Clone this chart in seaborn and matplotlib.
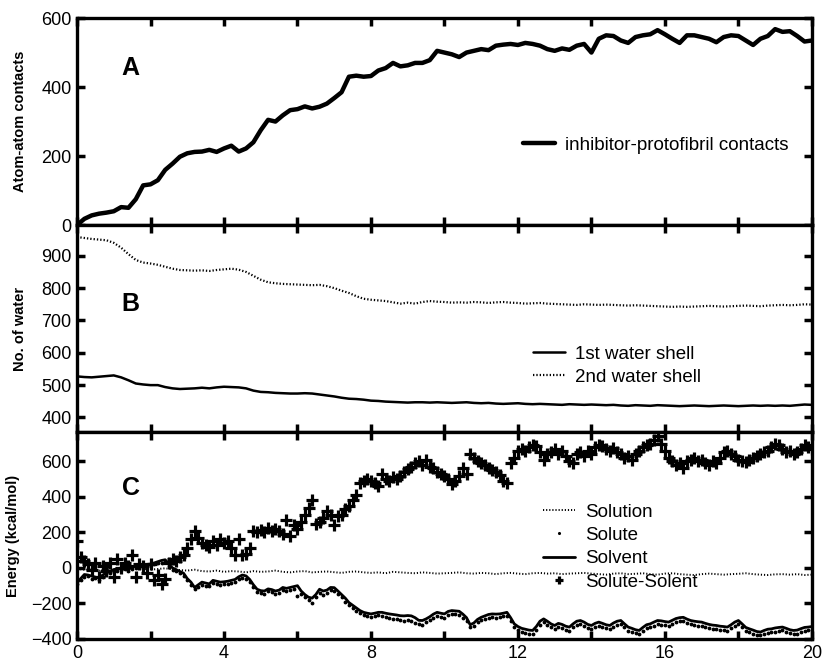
import numpy as np
import matplotlib
matplotlib.use("Agg")
import matplotlib.pyplot as plt
from matplotlib.ticker import MultipleLocator, FuncFormatter
import seaborn as sns

sns.set_style("ticks")
plt.rcParams['font.family'] = ['Liberation Sans', 'DejaVu Sans']
plt.rcParams.update({'axes.edgecolor': 'black', 'xtick.color': 'black', 'ytick.color': 'black',
                     'text.color': 'black', 'axes.labelcolor': 'black'})

# ---- data ----
# panel A: inhibitor-protofibril contacts, every 0.2 ns
contacts = [0, 18, 28, 33, 36, 40, 52, 50, 75, 115, 118, 130, 160, 178, 198, 208, 212, 213, 218, 212,
            222, 230, 213, 222, 240, 275, 305, 300, 318, 333, 336, 344, 338, 343, 352, 368, 385, 430, 433, 430,
            432, 448, 455, 470, 460, 463, 470, 470, 478, 505, 500, 495, 487, 500, 505, 510, 507, 520, 523, 525,
            522, 528, 525, 520, 510, 505, 512, 508, 520, 525, 500, 540, 550, 548, 535, 528, 545, 550, 553, 565,
            553, 540, 528, 550, 550, 545, 540, 530, 545, 550, 548, 535, 522, 540, 548, 568, 560, 562, 548, 532,
            535]

# panel B: number of water molecules, every 0.2 ns
shell1 = [527, 525, 524, 526, 528, 530, 524, 515, 505, 502, 500, 500, 494, 490, 488, 489, 490, 492, 490, 493,
          495, 494, 493, 490, 483, 479, 478, 476, 475, 474, 474, 475, 474, 471, 468, 465, 461, 458, 457, 455,
          452, 451, 449, 448, 447, 446, 447, 447, 446, 447, 446, 445, 446, 447, 445, 444, 445, 443, 442, 443,
          444, 442, 441, 442, 441, 440, 439, 441, 440, 439, 440, 439, 438, 439, 437, 436, 438, 437, 436, 438,
          437, 436, 435, 436, 437, 436, 435, 436, 437, 436, 435, 436, 437, 436, 437, 436, 437, 436, 438, 440,
          439]
shell2 = [958, 955, 952, 950, 948, 940, 925, 905, 887, 879, 876, 872, 866, 860, 856, 855, 854, 855, 853, 856,
          858, 860, 857, 850, 838, 826, 818, 815, 813, 812, 811, 810, 809, 810, 806, 800, 792, 785, 775, 767,
          764, 762, 760, 756, 752, 755, 752, 757, 760, 758, 757, 755, 756, 755, 757, 756, 754, 756, 757, 755,
          754, 752, 753, 754, 752, 751, 750, 749, 748, 750, 749, 748, 749, 748, 747, 746, 747, 746, 745, 744,
          743, 742, 743, 742, 743, 744, 745, 744, 743, 744, 745, 746, 745, 744, 746, 747, 748, 747, 748, 750,
          749]

# panel C: energies, solution every 0.2 ns, others every 0.1 ns
solution = [-5, -10, -8, -15, -5, -12, -10, -8, 0, -5, -10, -6, -2, -8, -12, -15, -10, -18, -20, -15,
            -22, -18, -20, -25, -18, -22, -20, -15, -22, -25, -20, -18, -25, -22, -20, -24, -28, -22, -20, -25,
            -28, -25, -30, -22, -25, -28, -30, -25, -28, -32, -30, -28, -25, -30, -32, -28, -30, -35, -30, -28,
            -32, -35, -30, -28, -32, -30, -35, -32, -30, -28, -32, -35, -38, -32, -30, -35, -33, -30, -35, -38,
            -32, -30, -35, -38, -40, -35, -32, -35, -38, -35, -33, -30, -35, -38, -40, -36, -35, -38, -35, -40,
            -38]
solvent = [-85, -60, -37, -40, -46, -52, -56, -40, -28, -20, -9, -5, -2, 0, -5, 5, 9, 12, 18, 20,
           22, 28, 35, 42, 46, 20, 0, -10, -20, -30, -60, -80, -110, -95, -80, -85, -90, -70, -75, -80,
           -78, -75, -70, -65, -50, -40, -45, -65, -95, -120, -128, -130, -118, -122, -130, -125, -110, -115, -110, -105,
           -100, -130, -150, -165, -170, -150, -120, -130, -125, -110, -111, -130, -150, -170, -195, -210, -225, -240, -250, -255,
           -259, -255, -250, -250, -255, -259, -262, -265, -269, -270, -268, -270, -280, -295, -296, -287, -275, -260, -250, -255,
           -259, -245, -240, -242, -244, -260, -280, -320, -310, -290, -278, -270, -262, -259, -260, -259, -255, -250, -280, -315,
           -330, -340, -345, -350, -352, -330, -300, -287, -300, -315, -324, -312, -318, -328, -333, -315, -300, -296, -305, -318,
           -324, -312, -305, -312, -320, -324, -310, -300, -296, -315, -333, -340, -348, -352, -335, -320, -315, -305, -296, -298,
           -302, -305, -295, -285, -280, -278, -288, -296, -300, -303, -305, -312, -318, -322, -324, -328, -330, -333, -320, -305,
           -296, -315, -335, -343, -350, -358, -361, -352, -345, -343, -338, -335, -333, -340, -348, -352, -350, -342, -335, -333,
           -330]
solute = [-90, -70, -50, -45, -60, -55, -70, -50, -35, -30, -20, -15, -10, -8, -15, -5, 0, 5, 10, 12,
          15, 20, 25, 30, 35, 10, -10, -20, -30, -45, -70, -95, -120, -110, -95, -100, -100, -85, -90, -95,
          -90, -88, -85, -80, -65, -55, -60, -80, -110, -135, -140, -145, -130, -135, -145, -140, -125, -130, -125, -120,
          -160, -145, -165, -180, -200, -165, -140, -150, -140, -125, -130, -145, -165, -190, -210, -225, -240, -255, -265, -270,
          -275, -270, -265, -268, -275, -280, -285, -290, -295, -300, -295, -300, -310, -315, -320, -305, -295, -280, -270, -275,
          -280, -265, -260, -262, -265, -280, -300, -330, -325, -305, -295, -290, -282, -278, -280, -276, -272, -270, -300, -335,
          -350, -360, -365, -370, -372, -350, -320, -305, -320, -335, -345, -330, -338, -348, -355, -335, -320, -318, -325, -340,
          -345, -330, -325, -332, -340, -345, -330, -320, -318, -335, -355, -360, -368, -372, -355, -340, -335, -325, -318, -320,
          -322, -325, -315, -305, -300, -298, -308, -318, -320, -325, -328, -332, -338, -342, -345, -348, -350, -355, -340, -325,
          -318, -335, -355, -363, -370, -378, -380, -372, -365, -362, -358, -355, -352, -360, -368, -372, -370, -362, -355, -352,
          -350]
solute_solvent = [150, 60, 40, 20, -10, 30, -50, 10, -20, 30, -50, 50, 0, 30, 10, 70, -50, 20, 10, -30,
                  20, -70, -40, -90, -60, 30, 50, 40, 60, 70, 110, 160, 210, 170, 140, 130, 120, 150, 130, 160,
                  140, 150, 110, 75, 160, 70, 80, 110, 210, 200, 215, 200, 225, 210, 220, 210, 190, 270, 180, 240,
                  220, 260, 300, 340, 380, 250, 260, 280, 320, 300, 240, 290, 300, 330, 350, 380, 410, 480, 490, 500,
                  490, 480, 460, 530, 500, 490, 510, 500, 520, 540, 555, 570, 590, 600, 580, 610, 570, 560, 540, 530,
                  520, 500, 470, 490, 520, 565, 530, 640, 620, 600, 590, 580, 560, 550, 540, 525, 490, 480, 590, 620,
                  660, 670, 660, 680, 690, 685, 650, 610, 640, 650, 670, 640, 660, 630, 600, 590, 640, 650, 630, 660,
                  640, 680, 690, 685, 670, 660, 675, 650, 640, 620, 630, 610, 640, 660, 680, 690, 700, 720, 740, 700,
                  660, 620, 600, 580, 590, 565, 600, 610, 620, 600, 610, 590, 580, 600, 590, 620, 650, 660, 640, 630,
                  610, 600, 595, 610, 620, 630, 640, 650, 660, 680, 700, 690, 670, 650, 660, 640, 650, 670, 690, 680,
                  670]

t_a = np.linspace(0, 20, len(contacts))
t_b = np.linspace(0, 20, len(shell1))
t_sol = np.linspace(0, 20, len(solution))
t_c = np.linspace(0, 20, len(solvent))

# ---- figure ----
fig = plt.figure(figsize=(8.22, 6.67), dpi=100)
L, W, H = 0.0937, 0.894, 0.3103
axA = fig.add_axes([L, 0.042 + 2 * H, W, H])
axB = fig.add_axes([L, 0.042 + H, W, H])
axC = fig.add_axes([L, 0.042, W, H])

sns.lineplot(x=t_a, y=contacts, ax=axA, color='black', linewidth=3.2,
             label='inhibitor-protofibril contacts')

sns.lineplot(x=t_b, y=shell1, ax=axB, color='black', linewidth=1.8, label='1st water shell')
sns.lineplot(x=t_b, y=shell2, ax=axB, color='black', linewidth=1.6, linestyle=(0, (0.6, 0.9)),
             label='2nd water shell')

axC.plot(t_sol, solution, color='black', linewidth=1.4, linestyle=(0, (0.6, 1.0)), label='Solution')
axC.plot(t_c, solute, color='black', linestyle='none', marker='.', markersize=3.5, label='Solute')
sns.lineplot(x=t_c, y=solvent, ax=axC, color='black', linewidth=2.0, label='Solvent')
axC.plot(t_c, solute_solvent, color='black', linestyle='none', marker='+', markersize=8,
         markeredgewidth=2.3, label='Solute-Solent')

axA.set_ylim(0, 600)
axA.set_yticks([0, 200, 400, 600])
axB.set_ylim(355, 995)
axB.set_yticks([400, 500, 600, 700, 800, 900])
axC.set_ylim(-400, 765)
axC.set_yticks([-400, -200, 0, 200, 400, 600])

for ax in (axA, axB, axC):
    ax.set_xlim(0, 20)
    ax.xaxis.set_major_locator(MultipleLocator(2))
    ax.tick_params(direction='in', top=True, right=True, length=6, width=2.5,
                   labelsize=13, pad=4)
    for sp in ax.spines.values():
        sp.set_linewidth(2.4)
    ax.set_xlabel('')
for ax in (axA, axB):
    ax.tick_params(labelbottom=False)
axC.xaxis.set_major_formatter(FuncFormatter(lambda v, p: '%d' % v if v % 4 == 0 else ''))

axA.set_ylabel('Atom-atom contacts', fontsize=10.5, fontweight='bold')
axB.set_ylabel('No. of water', fontsize=10.5, fontweight='bold')
axC.set_ylabel('Energy (kcal/mol)', fontsize=10.5, fontweight='bold')
axA.yaxis.set_label_coords(-0.068, 0.5)
axB.yaxis.set_label_coords(-0.068, 0.5)
axC.yaxis.set_label_coords(-0.078, 0.5)

axA.text(0.073, 0.76, 'A', transform=axA.transAxes, fontsize=18, fontweight='bold', ha='center', va='center')
axB.text(0.073, 0.62, 'B', transform=axB.transAxes, fontsize=18, fontweight='bold', ha='center', va='center')
axC.text(0.073, 0.73, 'C', transform=axC.transAxes, fontsize=18, fontweight='bold', ha='center', va='center')

leg_kw = dict(frameon=False, fontsize=13.5, loc='center left', borderpad=0, borderaxespad=0,
              handlelength=1.7, handletextpad=0.55, labelspacing=0.33)
axA.legend(bbox_to_anchor=(0.607, 0.386), **leg_kw)
axB.legend(bbox_to_anchor=(0.62, 0.32), **leg_kw)
axC.legend(bbox_to_anchor=(0.634, 0.444), markerscale=0.7, **leg_kw)

fig.savefig('out.png', dpi=100)
